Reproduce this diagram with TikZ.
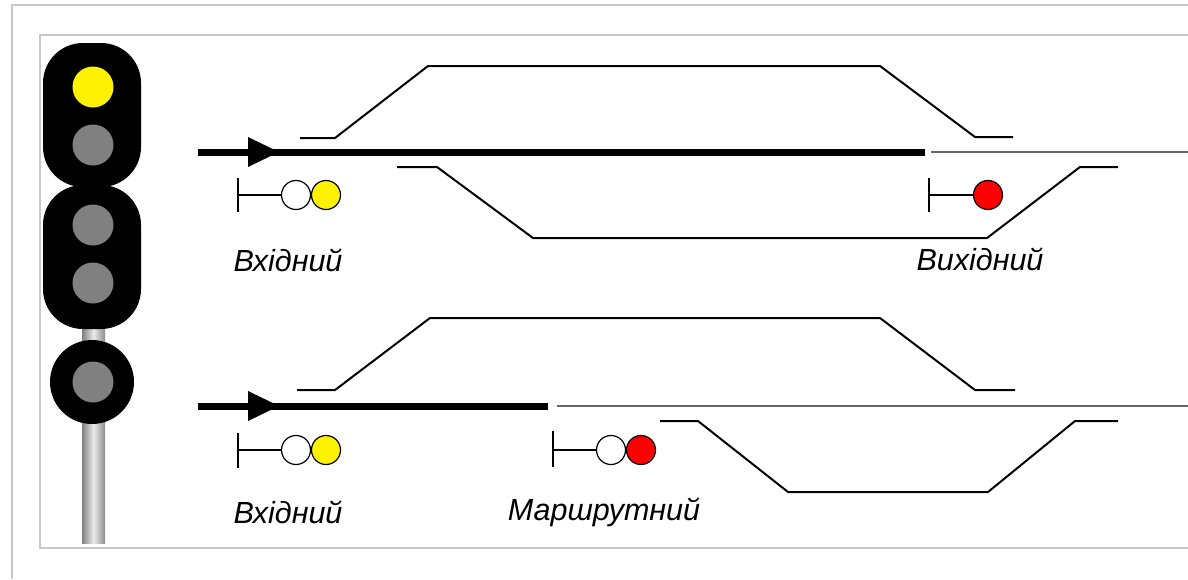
\documentclass[tikz,border=0pt]{standalone}
\usepackage{fontspec}
\setmainfont{Liberation Sans}
\begin{document}
\begin{tikzpicture}[x=1pt,y=-1pt,
  frame/.style={draw=black!22, line width=1.5pt},
  track/.style={line width=2pt, black},
  freetrack/.style={line width=2.6pt, black!60},
  route/.style={line width=7pt, black},
  lamp/.style={circle, draw=black, line width=1.2pt, minimum size=29pt, inner sep=0pt},
  head/.style={fill=black, rounded corners=40pt},
  glass/.style={circle, fill=black!50, minimum size=41pt, inner sep=0pt},
  lbl/.style={font=\fontsize{30.5}{34}\selectfont\itshape, inner sep=0pt},
  mastbar/.style={line width=2.4pt, black},
  basebar/.style={line width=1.6pt, black},
  arrowtri/.style={fill=black}
]
\useasboundingbox (0,0) rectangle (1188,579);
\fill[white] (0,0) rectangle (1188,579);
% frames
\draw[frame] (12,579) -- (12,5) -- (1188,5);
\draw[frame] (1188,35) -- (40,35) -- (40,548) -- (1188,548);

% signal at the left
\shade[left color=black!50, right color=black!45, middle color=black!8] (82,320) rectangle (105,543);
\fill[head] (43,43) rectangle (141,187);
\fill[head] (43,185) rectangle (141,329);
\node[circle, fill=black, minimum size=84pt, inner sep=0pt] (hd3) at (92,382) {};
\node[glass, fill=yellow] (l1) at (93,87) {};
\node[glass] (l2) at (93,145) {};
\node[glass] (l3) at (93,225) {};
\node[glass] (l4) at (93,283) {};
\node[glass] (l5) at (93,382) {};

% ---- upper scheme ----
\coordinate (a1s) at (198,152);
\coordinate (a1e) at (925,152);
\draw[route] (a1s) -- (a1e);
\fill[arrowtri] (248,137) -- (279,152) -- (248,167) -- cycle;
\coordinate (f1s) at (931,152);
\coordinate (f1e) at (1188,152);
\draw[freetrack] (f1s) -- (f1e);
\draw[track] (300,138) -- (335,138) -- (428,66) -- (880,66) -- (975,137) -- (1013,137);
\draw[track] (397,167) -- (437,167) -- (533,238) -- (987,238) -- (1080,167) -- (1118,167);

\coordinate (m1) at (238,195);
\draw[mastbar] (238,178) -- (238,212);
\node[lamp, fill=white] (w1) at (296,195) {};
\node[lamp, fill=yellow] (y1) at (326,195) {};
\draw[basebar] (m1) -- (w1);
\node[lbl] (t1) at (288,260) {Вхідний};

\coordinate (m2) at (929,195);
\draw[mastbar] (929,178) -- (929,212);
\node[lamp, fill=red] (r1) at (988,195) {};
\draw[basebar] (m2) -- (r1);
\node[lbl] (t2) at (980,259) {Вихідний};

% ---- lower scheme ----
\coordinate (a2s) at (198,406);
\coordinate (a2e) at (548,406);
\draw[route] (a2s) -- (a2e);
\fill[arrowtri] (248,391) -- (279,406) -- (248,421) -- cycle;
\coordinate (f2s) at (557,406);
\coordinate (f2e) at (1188,406);
\draw[freetrack] (f2s) -- (f2e);
\draw[track] (297,390) -- (335,390) -- (430,318) -- (880,318) -- (975,390) -- (1015,390);
\draw[track] (660,421) -- (698,421) -- (788,492) -- (988,492) -- (1075,421) -- (1118,421);

\coordinate (m3) at (238,450);
\draw[mastbar] (238,433) -- (238,468);
\node[lamp, fill=white] (w3) at (296,450) {};
\node[lamp, fill=yellow] (y3) at (326,450) {};
\draw[basebar, line width=2.8pt] (m3) -- (w3);
\node[lbl] (t3) at (288,512) {Вхідний};

\coordinate (m4) at (553,450);
\draw[mastbar] (553,431) -- (553,467);
\node[lamp, fill=white] (w4) at (611,450) {};
\node[lamp, fill=red] (r4) at (641,450) {};
\draw[basebar, line width=2.8pt] (m4) -- (w4);
\node[lbl] (t4) at (604,512) {Маршрутний};
\end{tikzpicture}
\end{document}
